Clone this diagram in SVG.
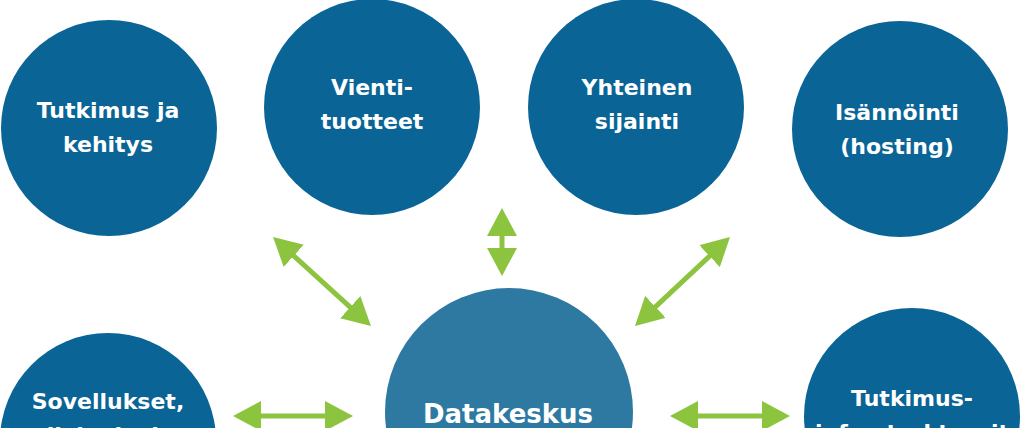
<svg xmlns="http://www.w3.org/2000/svg" width="1024" height="428" viewBox="0 0 1024 428">
  <style>
    .node { fill: #0a6496; }
    .hub { fill: #2e79a2; }
    .lbl { font-family: "DejaVu Sans", "Liberation Sans", sans-serif; font-weight: bold; font-size: 22px; fill: #ffffff; text-anchor: middle; }
    .hubl { font-size: 26px; }
    .conn { stroke: #8cc43f; stroke-width: 5; fill: none; marker-start: url(#head); marker-end: url(#head); }
  </style>
  <defs>
    <marker id="head" markerUnits="userSpaceOnUse" viewBox="0 0 28 30" markerWidth="28" markerHeight="30" refX="14" refY="15" orient="auto-start-reverse">
      <path d="M0,0 L28,15 L0,30 z" fill="#8cc43f"/>
    </marker>
  </defs>
  <rect width="1024" height="428" fill="#ffffff"/>

  <g id="connectors">
    <line class="conn" x1="283.4" y1="246.4" x2="360.6" y2="316.6"/>
    <line class="conn" x1="502" y1="222" x2="502" y2="262"/>
    <line class="conn" x1="719.8" y1="246.6" x2="645.2" y2="316.4"/>
    <line class="conn" x1="247" y1="416" x2="339" y2="416"/>
    <line class="conn" x1="684" y1="416" x2="776" y2="416"/>
  </g>

  <g id="tutkimus-ja-kehitys">
    <circle class="node" cx="109" cy="128" r="108"/>
    <text class="lbl" x="108" y="118">Tutkimus ja</text>
    <text class="lbl" x="108" y="152">kehitys</text>
  </g>
  <g id="vientituotteet">
    <circle class="node" cx="372" cy="107" r="108"/>
    <text class="lbl" x="372" y="95">Vienti-</text>
    <text class="lbl" x="372" y="129">tuotteet</text>
  </g>
  <g id="yhteinen-sijainti">
    <circle class="node" cx="636" cy="107" r="108"/>
    <text class="lbl" x="637" y="95">Yhteinen</text>
    <text class="lbl" x="637" y="129">sijainti</text>
  </g>
  <g id="isannointi">
    <circle class="node" cx="900" cy="129" r="108"/>
    <text class="lbl" x="897" y="120">Isännöinti</text>
    <text class="lbl" x="897" y="154">(hosting)</text>
  </g>
  <g id="datakeskus">
    <circle class="hub" cx="509" cy="412" r="124"/>
    <text class="lbl hubl" x="508" y="423">Datakeskus</text>
  </g>
  <g id="sovellukset">
    <circle class="node" cx="108" cy="441" r="108"/>
    <text class="lbl" x="108" y="409">Sovellukset,</text>
    <text class="lbl" x="108" y="443">pilvipalvelut</text>
  </g>
  <g id="tutkimusinfrastruktuurit">
    <circle class="node" cx="912" cy="416" r="108"/>
    <text class="lbl" x="912" y="406">Tutkimus-</text>
    <text class="lbl" x="912" y="440">infrastruktuurit</text>
  </g>
</svg>
